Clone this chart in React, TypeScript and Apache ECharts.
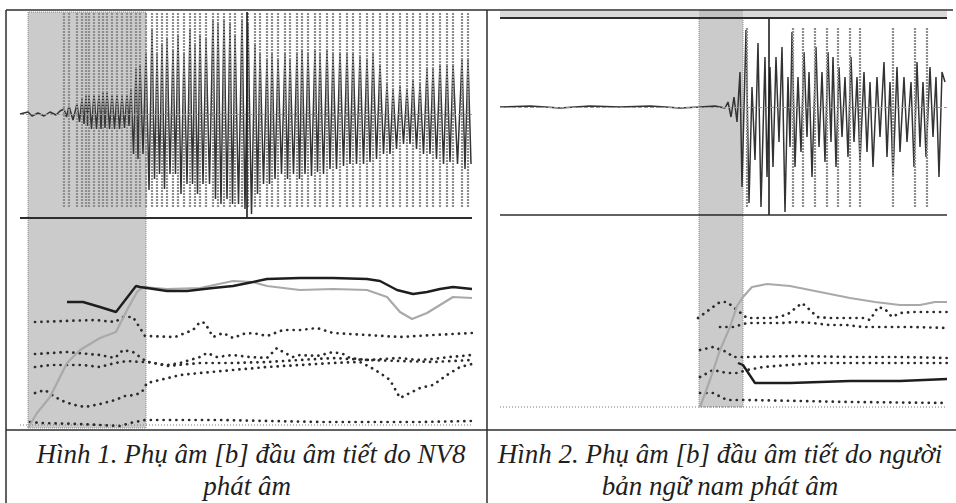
import React, { useEffect, useRef } from "react";
import * as echarts from "echarts";

// ---------- LEFT PANEL (Hình 1) ----------
// time axis: ms-like units, 0..452
const pitchMarksL = [44, 49, 57, 62, 66, 69, 74, 79, 83, 87, 92, 97, 102, 107, 111, 116, 120, 126, 132, 137, 142, 147, 153, 158, 164, 170, 175, 180, 186, 193, 198, 204, 210, 215, 222, 228, 235, 240, 247, 252, 258, 265, 270, 277, 282, 288, 295, 300, 307, 313, 320, 327, 333, 340, 347, 353, 360, 367, 373, 380, 387, 393, 400, 407, 413, 420, 427, 433, 442, 448];
// waveform samples: t, amplitude
const waveL = [0, 0, 8, 2, 12, -2, 18, 1, 24, -2, 30, 2, 36, -1, 40, 3, 44, 5, 46.5, -3, 49, 8, 53, -6, 57, 10, 59.5, -8, 62, 15, 64, -10, 66, 18, 67.5, -12, 69, 18, 71.5, -15, 74, 20, 76.5, -15, 79, 20, 81, -15, 83, 22, 85, -14, 87, 22, 89.5, -15, 92, 20, 94.5, -15, 97, 20, 99.5, -15, 102, 18, 104.5, -14, 107, 20, 109, -12, 111, 25, 113.5, -40, 116, 45, 118, -45, 120, 50, 123, -40, 126, 60, 129, -76, 132, 85, 134.5, -65, 137, 60, 139.5, -60, 142, 70, 144.5, -75, 147, 75, 150, -60, 153, 65, 155.5, -60, 158, 80, 161, -80, 164, 60, 167, -70, 170, 85, 172.5, -70, 175, 70, 177.5, -80, 180, 80, 183, -70, 186, 75, 189.5, -70, 193, 95, 195.5, -85, 198, 90, 201, -90, 204, 95, 207, -85, 210, 90, 212.5, -90, 215, 80, 218.5, -90, 222, 95, 225, -95, 228, 90, 231.5, -100, 235, 70, 237.5, -80, 240, 60, 243.5, -70, 247, 55, 249.5, -70, 252, 60, 255, -65, 258, 55, 261.5, -60, 265, 60, 267.5, -65, 270, 55, 273.5, -60, 277, 60, 279.5, -65, 282, 65, 285, -60, 288, 60, 291.5, -62, 295, 65, 297.5, -58, 300, 60, 303.5, -60, 307, 65, 310, -55, 313, 60, 316.5, -55, 320, 62, 323.5, -52, 327, 60, 330, -50, 333, 62, 336.5, -50, 340, 58, 343.5, -50, 347, 55, 350, -48, 353, 60, 356.5, -45, 360, 50, 363.5, -40, 367, 30, 370, -40, 373, 25, 376.5, -35, 380, 28, 383.5, -30, 387, 25, 390, -30, 393, 35, 396.5, -35, 400, 30, 403.5, -40, 407, 45, 410, -40, 413, 45, 416.5, -45, 420, 50, 423.5, -50, 427, 48, 430, -48, 433, 50, 437.5, -50, 442, 55, 445, -55, 448, 55, 451, -50];
const cursorL = 227;
const shadeL = [8, 126];
// lower plot: t, value
const pitchLineL = [47, 126, 63, 126, 80, 121, 96, 116, 116, 142, 120, 141, 127, 140, 147, 137, 167, 137, 193, 140, 213, 142, 233, 146, 247, 149, 280, 150, 313, 150, 347, 149, 360, 147, 377, 138, 393, 134, 407, 136, 420, 139, 433, 141, 452, 139];
const intensityL = [8, 0, 17, 15, 30, 31, 40, 51, 47, 65, 60, 78, 80, 90, 96, 96, 107, 118, 117, 136, 123, 141, 147, 139, 180, 140, 213, 147, 233, 146, 247, 142, 280, 138, 313, 139, 347, 138, 367, 131, 380, 116, 392, 109, 407, 115, 420, 123, 433, 131, 452, 130];
const formant4L = [15, 106, 45, 107, 75, 108, 95, 106, 103, 111, 113, 111, 125, 92, 155, 91, 173, 98, 180, 106, 185, 105, 193, 91, 203, 95, 213, 90, 223, 94, 233, 95, 247, 92, 263, 98, 280, 98, 297, 100, 313, 95, 347, 93, 380, 91, 397, 92, 413, 93, 452, 95];
const formant3L = [15, 74, 47, 76, 80, 73, 95, 70, 103, 78, 113, 76, 127, 66, 147, 63, 160, 65, 170, 68, 180, 71, 187, 75, 197, 71, 213, 73, 230, 71, 247, 70, 257, 80, 263, 76, 273, 71, 280, 73, 297, 72, 313, 76, 323, 74, 330, 70, 347, 68, 363, 69, 380, 70, 397, 68, 413, 69, 430, 71, 452, 73];
const formant2L = [15, 61, 30, 63, 47, 63, 63, 63, 80, 61, 95, 65, 107, 67, 120, 66, 130, 66, 147, 62, 180, 65, 213, 65, 247, 66, 280, 68, 313, 70, 347, 68, 380, 67, 413, 66, 452, 68];
const formant1L = [15, 35, 25, 38, 35, 31, 45, 26, 55, 23, 65, 21, 80, 24, 95, 28, 105, 32, 115, 33, 122, 36, 127, 45, 140, 48, 160, 53, 180, 55, 213, 58, 247, 61, 280, 63, 313, 65, 340, 66, 350, 61, 360, 55, 370, 48, 380, 30, 390, 35, 400, 40, 413, 43, 427, 53, 440, 61, 452, 64];
const bottomRowL = [10, 6, 20, 5, 60, 4, 100, 2, 110, 5, 125, 8, 150, 8, 200, 8, 250, 7, 300, 6, 350, 6, 400, 6, 452, 7];
const baseLevelL = 3;

// ---------- RIGHT PANEL (Hình 2) ----------
const pitchMarksR = [247, 293, 303, 315, 327, 338, 350, 360, 393, 415, 427];
const waveR = [0, 0, 30, 1, 60, -1, 90, 1, 120, 0, 150, 1, 180, -1, 200, 0, 215, 1, 225, -1, 228, 5, 231, -10, 234, 10, 237, -15, 240, 35, 242, -80, 246, 77, 249, -96, 252, 20, 255, -53, 258, 64, 261, -100, 265, 50, 267, -70, 270, 40, 273, -60, 276, 50, 279, -35, 282, 60, 285, -105, 288, 30, 290, -40, 292, 75, 295, -60, 298, 30, 301, -45, 304, 55, 307, -30, 309, 35, 312, -70, 316, 60, 319, -40, 322, 35, 325, -55, 328, 55, 331, -35, 333, 50, 336, -60, 339, 40, 342, -30, 345, 30, 348, -50, 351, 50, 354, -35, 357, 30, 360, -55, 364, 35, 367, -45, 370, 25, 373, -60, 377, 30, 380, -30, 384, 45, 387, -50, 390, 25, 393, -70, 397, 40, 400, -45, 404, 30, 407, -35, 411, 25, 414, -60, 417, 45, 420, -40, 423, 25, 426, -50, 430, 40, 433, -30, 436, 30, 439, -70, 442, 35, 445, 25];
const cursorR = 269;
const shadeR = [199, 243];
const intensityR = [200, 21, 210, 48, 220, 78, 230, 101, 237, 122, 243, 131, 252, 141, 267, 144, 290, 142, 310, 138, 330, 134, 350, 130, 375, 126, 400, 123, 420, 123, 435, 126, 447, 126];
const pitchLineR = [238, 65, 243, 63, 255, 45, 270, 45, 290, 45, 350, 47, 400, 47, 447, 49];
const formant4R = [198, 110, 213, 121, 220, 126, 227, 126, 247, 110, 273, 110, 282, 112, 288, 114, 302, 125, 310, 118, 317, 111, 330, 110, 347, 110, 363, 110, 370, 108, 378, 121, 385, 119, 392, 111, 400, 115, 413, 116, 430, 116, 447, 116];
const formant3R = [220, 101, 233, 101, 247, 105, 263, 105, 280, 105, 297, 106, 313, 105, 330, 103, 347, 103, 363, 101, 380, 101, 397, 101, 413, 101, 447, 100];
const formant2R = [200, 78, 213, 81, 227, 76, 233, 71, 247, 71, 300, 72, 350, 71, 400, 71, 447, 70];
const formant1R = [200, 51, 213, 58, 227, 55, 237, 55, 247, 58, 263, 61, 313, 65, 447, 65];
const bottomRowR = [200, 35, 213, 35, 227, 28, 237, 28, 247, 28, 300, 27, 350, 26, 447, 25];
const baseLevelR = 21;

// ---------- CAPTIONS ----------
const captionL = ["Hình 1. Phụ âm [b] đầu âm tiết do NV8", "phát âm"];
const captionR = ["Hình 2. Phụ âm [b] đầu âm tiết do người", "bản ngữ nam phát âm"];

const pairs = (a: number[]) => {
  const r: number[][] = [];
  for (let i = 0; i < a.length; i += 2) r.push([a[i], a[i + 1]]);
  return r;
};

const dotStyle = { color: "#2b2b2b", width: 2.7, type: [0.1, 6.3], cap: "round" as const };

function dotted(data: number[], xi: number) {
  return {
    type: "line", xAxisIndex: xi, yAxisIndex: xi, data: pairs(data), symbol: "none",
    lineStyle: dotStyle, z: 3, silent: true,
  };
}

function panelSeries(
  wi: number, li: number, wave: number[], marks: number[], markTop: number, markBot: number,
  cursor: number, cTop: number, cBot: number, shade: number[], shadeLow: number,
  inten: number[], pitch: number[], fs: number[][], bottom: number[], base: number, xmax: number
) {
  const shadeStyle = { color: "#cbcbcb", borderColor: "#8a8a8a", borderWidth: 1, borderType: "dotted" };
  return [
    {
      type: "line", xAxisIndex: wi, yAxisIndex: wi, data: [], z: 1, silent: true,
      markArea: { silent: true, itemStyle: shadeStyle, data: [[{ xAxis: shade[0] }, { xAxis: shade[1] }]] },
    },
    {
      type: "line", xAxisIndex: li, yAxisIndex: li, data: [], z: 1, silent: true,
      markArea: { silent: true, itemStyle: shadeStyle, data: [[{ coord: [shade[0], shadeLow] }, { coord: [shade[1], 1000] }]] },
    },
    {
      type: "line", xAxisIndex: wi, yAxisIndex: wi, data: [], z: 2, silent: true,
      markLine: {
        silent: true, symbol: ["none", "none"], label: { show: false },
        lineStyle: { color: "#8e8e8e", width: 2.2, type: [2, 1] },
        data: marks.map((t) => [{ coord: [t, markTop] }, { coord: [t, markBot] }]),
      },
    },
    {
      type: "line", xAxisIndex: wi, yAxisIndex: wi, data: pairs(wave), symbol: "none", z: 3, silent: true,
      lineStyle: { color: "#333333", width: 1.5 },
      markLine: {
        silent: true, symbol: ["none", "none"], label: { show: false },
        data: [
          { yAxis: 0, lineStyle: { color: "#999", width: 1, type: "dashed" } },
          [{ coord: [cursor, cTop], lineStyle: { color: "#111", width: 1.5, type: "solid" } }, { coord: [cursor, cBot] }],
        ],
      },
    },
    {
      type: "line", xAxisIndex: li, yAxisIndex: li, data: [[0, base], [xmax, base]], symbol: "none", z: 2, silent: true,
      lineStyle: { color: "#777", width: 1, type: [1, 2] },
    },
    ...fs.map((f) => dotted(f, li)),
    dotted(bottom, li),
    {
      type: "line", xAxisIndex: li, yAxisIndex: li, data: pairs(inten), symbol: "none", z: 4, silent: true,
      lineStyle: { color: "#a9a9a9", width: 2.2 },
    },
    {
      type: "line", xAxisIndex: li, yAxisIndex: li, data: pairs(pitch), symbol: "none", z: 5, silent: true,
      lineStyle: { color: "#1e1e1e", width: 2.4 },
    },
  ];
}

export default function App() {
  const ref = useRef<HTMLDivElement>(null);
  useEffect(() => {
    document.body.style.margin = "0";
    const chart = echarts.init(ref.current!, undefined, { renderer: "svg" });
    const grids = [
      { left: 20, top: 12, width: 452, height: 206 },
      { left: 20, top: 218, width: 452, height: 210 },
      { left: 500, top: 18, width: 447, height: 197 },
      { left: 500, top: 215, width: 447, height: 213 },
    ];
    const xmax = [452, 452, 447, 447];
    const yr = [[-104, 102], [0, 210], [-108, 89], [0, 213]];
    const lineC = "#2e2e2e";
    const ln = (x1: number, y1: number, x2: number, y2: number, w = 1.5) => ({
      type: "line", shape: { x1, y1, x2, y2 }, style: { stroke: lineC, lineWidth: w }, silent: true, z: 10,
    });
    const cap = (text: string, x: number, y: number) => ({
      type: "text", x, y, silent: true, z: 10,
      style: {
        text, fill: "#1f1f1f", fontFamily: "Liberation Serif", fontStyle: "italic", fontSize: 27,
        textAlign: "center", textVerticalAlign: "middle",
      },
    });
    chart.setOption({
      animation: false,
      backgroundColor: "#ffffff",
      grid: grids,
      xAxis: grids.map((_, i) => ({ type: "value", gridIndex: i, min: 0, max: xmax[i], show: false })),
      yAxis: grids.map((_, i) => ({ type: "value", gridIndex: i, min: yr[i][0], max: yr[i][1], show: false })),
      series: [
        ...panelSeries(0, 1, waveL, pitchMarksL, 101, -94, cursorL, 102, -104, shadeL, 0,
          intensityL, pitchLineL, [formant4L, formant3L, formant2L, formant1L], bottomRowL, baseLevelL, 452),
        ...panelSeries(2, 3, waveR, pitchMarksR, 79, -100, cursorR, 89, -108, shadeR, baseLevelR,
          intensityR, pitchLineR, [formant4R, formant3R, formant2R, formant1R], bottomRowR, baseLevelR, 447),
      ],
      graphic: [
        { type: "rect", shape: { x: 500, y: 11, width: 447, height: 6 }, style: { fill: "#d9d9d9" }, silent: true, z: 9 },
        { type: "rect", shape: { x: 699, y: 10, width: 44, height: 8 }, style: { fill: "#c2c2c2" }, silent: true, z: 9 },
        ln(6, 10, 953, 10),
        ln(6, 10, 6, 503),
        ln(487, 10, 487, 503),
        ln(6, 430, 956, 430),
        ln(20, 218, 472, 218, 2),
        ln(500, 18, 947, 18, 2),
        ln(500, 215, 947, 215, 1.5),
        cap(captionL[0], 251, 454),
        cap(captionL[1], 247, 486),
        cap(captionR[0], 720, 454),
        cap(captionR[1], 720, 486),
      ],
    });
    return () => chart.dispose();
  }, []);
  return <div ref={ref} style={{ position: "fixed", left: 0, top: 0, width: 956, height: 503 }} />;
}
